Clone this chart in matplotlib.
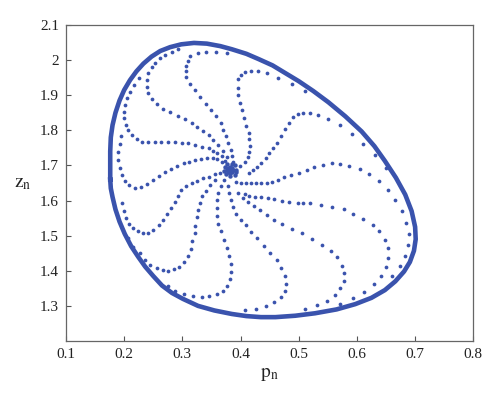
import matplotlib
matplotlib.use('Agg')
import matplotlib.pyplot as plt

plt.rcParams['font.family'] = ['Liberation Serif', 'DejaVu Serif']
plt.rcParams['mathtext.fontset'] = 'stix'

blue = '#3a53ad'

# closed invariant curve (p, z)
cycle_p = [0.176, 0.176, 0.176, 0.177, 0.180, 0.185, 0.192, 0.200, 0.210, 0.221, 0.233, 0.247,
           0.262, 0.279, 0.298, 0.320, 0.342, 0.365, 0.385, 0.410, 0.431, 0.455, 0.476, 0.500,
           0.525, 0.551, 0.580, 0.608, 0.630, 0.648, 0.667, 0.683, 0.694, 0.700, 0.701, 0.698,
           0.691, 0.681, 0.666, 0.648, 0.625, 0.597, 0.565, 0.528, 0.494, 0.460, 0.435, 0.410,
           0.385, 0.355, 0.327, 0.301, 0.282, 0.265, 0.250, 0.236, 0.224, 0.212, 0.201, 0.192,
           0.185, 0.180, 0.177]
cycle_z = [1.660, 1.700, 1.740, 1.780, 1.815, 1.850, 1.885, 1.915, 1.943, 1.968, 1.990, 2.010,
           2.026, 2.037, 2.045, 2.049, 2.047, 2.040, 2.031, 2.018, 2.003, 1.985, 1.964, 1.940,
           1.912, 1.880, 1.840, 1.797, 1.755, 1.713, 1.665, 1.617, 1.570, 1.525, 1.490, 1.457,
           1.425, 1.398, 1.370, 1.345, 1.323, 1.305, 1.290, 1.279, 1.272, 1.268, 1.268, 1.271,
           1.277, 1.287, 1.300, 1.320, 1.337, 1.358, 1.385, 1.412, 1.440, 1.470, 1.505, 1.540,
           1.575, 1.610, 1.635]

# dense core around the fixed point
core_p = [0.382, 0.387, 0.386, 0.382, 0.378, 0.377, 0.378, 0.382, 0.386,
          0.392, 0.391, 0.385, 0.377, 0.373, 0.372, 0.375, 0.382, 0.390, 0.393]
core_z = [1.688, 1.688, 1.694, 1.697, 1.694, 1.688, 1.682, 1.679, 1.682,
          1.688, 1.700, 1.705, 1.704, 1.697, 1.685, 1.675, 1.671, 1.674, 1.680]

# spiral arms
arm_a = [(0.387, 1.711), (0.385, 1.728), (0.383, 1.745), (0.379, 1.765), (0.375, 1.784),
         (0.370, 1.802), (0.366, 1.822), (0.358, 1.840), (0.349, 1.858), (0.340, 1.876),
         (0.330, 1.895), (0.321, 1.915), (0.313, 1.933), (0.307, 1.952), (0.306, 1.969),
         (0.306, 1.983), (0.309, 1.997), (0.313, 2.012), (0.327, 2.021), (0.340, 2.024),
         (0.357, 2.024), (0.376, 2.019)]
arm_b = [(0.399, 1.698), (0.408, 1.710), (0.413, 1.724), (0.415, 1.739), (0.416, 1.755),
         (0.415, 1.774), (0.414, 1.792), (0.410, 1.812), (0.406, 1.836), (0.403, 1.858),
         (0.399, 1.879), (0.396, 1.900), (0.395, 1.921), (0.396, 1.945), (0.401, 1.959),
         (0.408, 1.967), (0.418, 1.970), (0.430, 1.969), (0.446, 1.962), (0.465, 1.950),
         (0.488, 1.933), (0.511, 1.912)]
arm_c = [(0.414, 1.679), (0.421, 1.687), (0.428, 1.696), (0.435, 1.708), (0.443, 1.720),
         (0.449, 1.735), (0.456, 1.749), (0.462, 1.765), (0.470, 1.784), (0.477, 1.803),
         (0.484, 1.822), (0.490, 1.838), (0.499, 1.847), (0.508, 1.850), (0.519, 1.849),
         (0.533, 1.844), (0.550, 1.832), (0.571, 1.815), (0.592, 1.790), (0.611, 1.761),
         (0.631, 1.730), (0.650, 1.693)]
arm_d = [(0.392, 1.654), (0.401, 1.651), (0.409, 1.649), (0.418, 1.649), (0.427, 1.649),
         (0.435, 1.649), (0.445, 1.651), (0.454, 1.654), (0.464, 1.659), (0.475, 1.666),
         (0.487, 1.673), (0.500, 1.679), (0.514, 1.688), (0.527, 1.696), (0.541, 1.702),
         (0.557, 1.707), (0.571, 1.705), (0.586, 1.699), (0.605, 1.691), (0.621, 1.676),
         (0.638, 1.655), (0.653, 1.629), (0.666, 1.602), (0.677, 1.569), (0.684, 1.536),
         (0.690, 1.505), (0.688, 1.473), (0.683, 1.442), (0.674, 1.414), (0.660, 1.385)]
arm_e = [(0.407, 1.619), (0.415, 1.613), (0.425, 1.611), (0.435, 1.609), (0.447, 1.606),
         (0.458, 1.604), (0.471, 1.600), (0.484, 1.597), (0.498, 1.594), (0.508, 1.593),
         (0.519, 1.592), (0.538, 1.588), (0.558, 1.582), (0.577, 1.576), (0.594, 1.563),
         (0.611, 1.548), (0.627, 1.531), (0.638, 1.512), (0.648, 1.488), (0.653, 1.465),
         (0.653, 1.436), (0.650, 1.412), (0.641, 1.386), (0.629, 1.362), (0.613, 1.340),
         (0.594, 1.322), (0.571, 1.305)]
arm_f = [(0.396, 1.621), (0.404, 1.607), (0.413, 1.596), (0.423, 1.584), (0.433, 1.573),
         (0.446, 1.559), (0.458, 1.545), (0.471, 1.532), (0.488, 1.519), (0.506, 1.507),
         (0.522, 1.490), (0.540, 1.474), (0.555, 1.457), (0.565, 1.438), (0.574, 1.414),
         (0.578, 1.394), (0.577, 1.372), (0.571, 1.351), (0.562, 1.332), (0.548, 1.315),
         (0.531, 1.303), (0.510, 1.290)]
arm_g = [(0.378, 1.641), (0.380, 1.622), (0.383, 1.602), (0.387, 1.582), (0.393, 1.563),
         (0.401, 1.546), (0.409, 1.529), (0.418, 1.510), (0.428, 1.492), (0.440, 1.472),
         (0.451, 1.452), (0.462, 1.431), (0.470, 1.408), (0.476, 1.385), (0.478, 1.362),
         (0.476, 1.342), (0.469, 1.325), (0.458, 1.311), (0.444, 1.300), (0.427, 1.291),
         (0.408, 1.287)]
arm_h = [(0.372, 1.659), (0.366, 1.641), (0.362, 1.622), (0.360, 1.602), (0.359, 1.579),
         (0.360, 1.556), (0.362, 1.533), (0.366, 1.512), (0.372, 1.489), (0.376, 1.465),
         (0.380, 1.441), (0.383, 1.419), (0.383, 1.397), (0.381, 1.377), (0.376, 1.357),
         (0.369, 1.343), (0.359, 1.334), (0.346, 1.328), (0.333, 1.326), (0.319, 1.327),
         (0.303, 1.334), (0.287, 1.343), (0.275, 1.357)]
arm_i = [(0.356, 1.659), (0.348, 1.643), (0.340, 1.628), (0.334, 1.612), (0.330, 1.593),
         (0.327, 1.574), (0.325, 1.552), (0.322, 1.528), (0.321, 1.507), (0.317, 1.484),
         (0.314, 1.462), (0.309, 1.441), (0.303, 1.426), (0.295, 1.412), (0.286, 1.405),
         (0.276, 1.400), (0.267, 1.402), (0.256, 1.407), (0.244, 1.416), (0.236, 1.431),
         (0.227, 1.450), (0.216, 1.469), (0.207, 1.492)]
arm_m = [(0.365, 1.679), (0.356, 1.675), (0.346, 1.668), (0.336, 1.663), (0.326, 1.657),
         (0.316, 1.649), (0.306, 1.641), (0.298, 1.630), (0.293, 1.612), (0.287, 1.595),
         (0.280, 1.578), (0.273, 1.561), (0.266, 1.545), (0.259, 1.530), (0.250, 1.516),
         (0.241, 1.509), (0.232, 1.509), (0.224, 1.513), (0.216, 1.521), (0.209, 1.532),
         (0.203, 1.549), (0.199, 1.570), (0.196, 1.593)]
arm_l = [(0.368, 1.711), (0.360, 1.717), (0.352, 1.720), (0.342, 1.720), (0.332, 1.718),
         (0.322, 1.715), (0.312, 1.711), (0.302, 1.706), (0.291, 1.698), (0.280, 1.690),
         (0.270, 1.681), (0.260, 1.671), (0.250, 1.659), (0.239, 1.647), (0.229, 1.640),
         (0.219, 1.637), (0.209, 1.643), (0.201, 1.656), (0.196, 1.673), (0.192, 1.693),
         (0.190, 1.715), (0.190, 1.738), (0.192, 1.761), (0.195, 1.784)]
arm_k = [(0.373, 1.714), (0.368, 1.727), (0.360, 1.735), (0.353, 1.742), (0.345, 1.749),
         (0.333, 1.753), (0.322, 1.758), (0.310, 1.763), (0.299, 1.765), (0.287, 1.766),
         (0.276, 1.766), (0.264, 1.766), (0.253, 1.766), (0.241, 1.766), (0.230, 1.768),
         (0.222, 1.774), (0.213, 1.787), (0.207, 1.801), (0.203, 1.815), (0.200, 1.834),
         (0.200, 1.853), (0.201, 1.872), (0.204, 1.891), (0.210, 1.910), (0.217, 1.929),
         (0.225, 1.949)]
arm_j = [(0.376, 1.725), (0.369, 1.742), (0.362, 1.758), (0.353, 1.772), (0.345, 1.787),
         (0.335, 1.799), (0.326, 1.810), (0.316, 1.820), (0.304, 1.831), (0.292, 1.841),
         (0.279, 1.853), (0.267, 1.862), (0.256, 1.875), (0.247, 1.888), (0.241, 1.905),
         (0.239, 1.924), (0.239, 1.943), (0.241, 1.962), (0.247, 1.981), (0.253, 1.993),
         (0.262, 2.005), (0.270, 2.015), (0.282, 2.024), (0.293, 2.031)]
arms = [arm_a, arm_b, arm_c, arm_d, arm_e, arm_f, arm_g, arm_h, arm_i, arm_m, arm_l, arm_k, arm_j]

x_ticks = [0.1, 0.2, 0.3, 0.4, 0.5, 0.6, 0.7, 0.8]
x_labels = ['0.1', '0.2', '0.3', '0.4', '0.5', '0.6', '0.7', '0.8']
y_ticks = [1.3, 1.4, 1.5, 1.6, 1.7, 1.8, 1.9, 2.0, 2.1]
y_labels = ['1.3', '1.4', '1.5', '1.6', '1.7', '1.8', '1.9', '2', '2.1']

fig = plt.figure(figsize=(5, 4.01), dpi=100)
ax = fig.add_axes([0.132, 0.1496, 0.8146, 0.788])

# invariant curve: dense dots, drawn as a thick line
ax.plot(cycle_p + cycle_p[:1], cycle_z + cycle_z[:1], '-', color=blue, lw=3.3,
        solid_joinstyle='round')

ax.plot(core_p, core_z, 'o', color=blue, ms=3.2, mec='none')
for arm in arms:
    p = [pt[0] for pt in arm]
    z = [pt[1] for pt in arm]
    ax.plot(p, z, 'o', color=blue, ms=2.7, mec='none', ls='none')

ax.set_xlim(0.1, 0.8)
ax.set_ylim(1.2, 2.1)
ax.set_xticks(x_ticks)
ax.set_xticklabels(x_labels)
ax.set_yticks(y_ticks)
ax.set_yticklabels(y_labels)
ax.tick_params(direction='in', length=3.5, width=0.8, color='#555555',
               labelsize=11, labelcolor='#222222', pad=5)
for s in ax.spines.values():
    s.set_color('#666666')
    s.set_linewidth(0.9)

ax.set_xlabel(r'$\mathrm{p}_{\mathrm{n}}$', fontsize=14, color='#222222')
ax.xaxis.set_label_coords(0.5, -0.08)
ax.set_ylabel(r'$\mathrm{z}_{\mathrm{n}}$', fontsize=14, color='#222222', rotation=0,
              va='center', ha='center')
ax.yaxis.set_label_coords(-0.105, 0.5)

fig.savefig('out.png', dpi=100)
